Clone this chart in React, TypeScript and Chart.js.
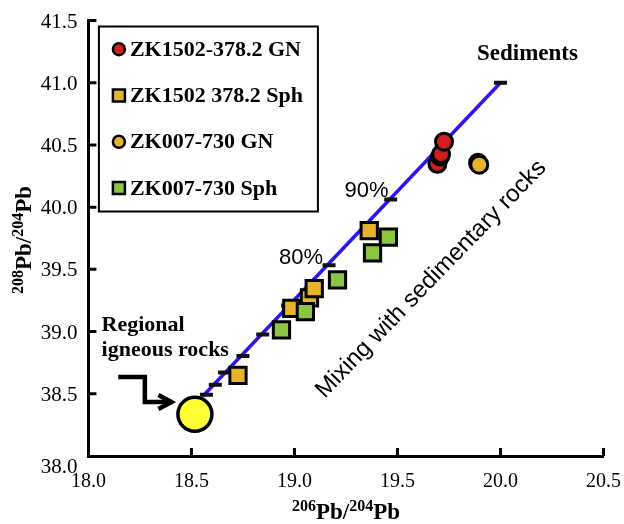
import React, { useEffect, useRef } from 'react';
import { Chart, registerables } from 'chart.js';

Chart.register(...registerables);

// ---- tick labels ----
const X_TICKS = [18.0, 18.5, 19.0, 19.5, 20.0, 20.5];
const Y_TICKS = [38.0, 38.5, 39.0, 39.5, 40.0, 40.5, 41.0, 41.5];

// ---- series ----
const ZK1502_GN_X = [19.694, 19.707, 19.712, 19.726];
const ZK1502_GN_Y = [40.348, 40.407, 40.427, 40.526];

const ZK1502_SPH_X = [18.726, 18.987, 19.073, 19.096, 19.363];
const ZK1502_SPH_Y = [38.648, 39.186, 39.271, 39.345, 39.811];

const ZK007_GN_X = [19.891, 19.897];
const ZK007_GN_Y = [40.356, 40.341];

const ZK007_SPH_X = [18.937, 19.053, 19.209, 19.379, 19.456];
const ZK007_SPH_Y = [39.013, 39.161, 39.415, 39.633, 39.759];

const IGNEOUS_X = [18.517];
const IGNEOUS_Y = [38.335];

const MIX_LINE_X = [18.555, 20.0];
const MIX_LINE_Y = [38.48, 41.0];

const MIX_TICK_X = [18.573, 18.616, 18.661, 18.75, 18.846, 18.967, 19.168, 19.467, 20.0];
const MIX_TICK_Y = [38.493, 38.573, 38.672, 38.804, 38.977, 39.21, 39.534, 40.062, 41.0];

// ---- labels ----
const SERIES_LABELS = ['ZK1502-378.2 GN', 'ZK1502 378.2 Sph', 'ZK007-730 GN', 'ZK007-730 Sph'];
const NOTE_TEXTS = ['Sediments', 'Regional', 'igneous rocks', '90%', '80%', 'Mixing with sedimentary rocks'];
const NOTE_X = [20.131, 18.064, 18.064, 19.35, 19.032, 19.663];
const NOTE_Y = [41.185, 39.007, 38.807, 40.132, 39.593, 39.421];
const ARROW_X = [18.145, 18.274, 18.274, 18.403];
const ARROW_Y = [38.634, 38.634, 38.434, 38.434];

const SERIF = "'Liberation Serif', serif";
const SANS = "'Liberation Sans', sans-serif";

const RED = '#d11f1f';
const GOLD = '#e6b42b';
const GREEN = '#8cc63f';
const YELLOW = '#ffff33';
const BLUE = '#2a14f5';

const zip = (xs: number[], ys: number[]) => xs.map((x, i) => ({ x, y: ys[i] }));

const NOTE_STYLES = [
  { font: `bold 23px ${SERIF}`, align: 'center', baseline: 'alphabetic', rot: 0 },
  { font: `bold 22px ${SERIF}`, align: 'left', baseline: 'alphabetic', rot: 0 },
  { font: `bold 22px ${SERIF}`, align: 'left', baseline: 'alphabetic', rot: 0 },
  { font: `400 22px ${SANS}`, align: 'center', baseline: 'middle', rot: 0 },
  { font: `400 22px ${SANS}`, align: 'center', baseline: 'middle', rot: 0 },
  { font: `400 24px ${SANS}`, align: 'center', baseline: 'middle', rot: (-46 * Math.PI) / 180 },
];

const annotationPlugin = {
  id: 'annotations',
  afterDatasetsDraw(chart: any) {
    const { ctx, scales } = chart;
    const sx = scales.x;
    const sy = scales.y;
    ctx.save();
    ctx.fillStyle = '#000';
    NOTE_TEXTS.forEach((t, i) => {
      const st = NOTE_STYLES[i];
      const px = sx.getPixelForValue(NOTE_X[i]);
      const py = sy.getPixelForValue(NOTE_Y[i]);
      ctx.save();
      ctx.translate(px, py);
      ctx.rotate(st.rot);
      ctx.font = st.font;
      ctx.textAlign = st.align;
      ctx.textBaseline = st.baseline;
      ctx.fillText(t, 0, 0);
      ctx.restore();
    });
    // arrow
    const pts = ARROW_X.map((x, i) => [sx.getPixelForValue(x), sy.getPixelForValue(ARROW_Y[i])]);
    ctx.strokeStyle = '#000';
    ctx.lineWidth = 4.5;
    ctx.lineJoin = 'miter';
    ctx.lineCap = 'butt';
    ctx.beginPath();
    pts.forEach((p, i) => (i ? ctx.lineTo(p[0], p[1]) : ctx.moveTo(p[0], p[1])));
    ctx.stroke();
    const tip = pts[pts.length - 1];
    ctx.beginPath();
    ctx.moveTo(tip[0] - 13, tip[1] - 7);
    ctx.lineTo(tip[0], tip[1]);
    ctx.lineTo(tip[0] - 13, tip[1] + 7);
    ctx.stroke();
    ctx.restore();
  },
};

const legendPlugin = {
  id: 'boxLegend',
  afterDatasetsDraw(chart: any) {
    const { ctx, chartArea } = chart;
    const left = chartArea.left + 10.5;
    const top = chartArea.top + 6;
    const w = 219;
    const h = 185;
    ctx.save();
    ctx.fillStyle = '#fff';
    ctx.fillRect(left, top, w, h);
    ctx.lineWidth = 2;
    ctx.strokeStyle = '#000';
    ctx.strokeRect(left, top, w, h);
    const ds = chart.data.datasets;
    SERIES_LABELS.forEach((label: string, i: number) => {
      const d = ds.find((q: any) => q.label === label);
      const cy = top + 22.7 + i * 46.3;
      const cx = left + 20;
      ctx.fillStyle = d.backgroundColor;
      ctx.strokeStyle = '#000';
      ctx.lineWidth = 2.5;
      ctx.beginPath();
      if (d.pointStyle === 'rect') {
        ctx.rect(cx - 6, cy - 6, 12, 12);
      } else {
        ctx.arc(cx, cy, 6, 0, Math.PI * 2);
      }
      ctx.fill();
      ctx.stroke();
      ctx.fillStyle = '#000';
      ctx.font = `bold 22px ${SERIF}`;
      ctx.textAlign = 'left';
      ctx.textBaseline = 'middle';
      ctx.fillText(label, left + 31, cy + 1);
    });
    ctx.restore();
  },
};

function drawIsoTitle(ctx: any, sup1: string, sup2: string) {
  const big = `bold 23px ${SERIF}`;
  const small = `bold 16px ${SERIF}`;
  const parts: [string, boolean][] = [
    [sup1, true],
    ['Pb/', false],
    [sup2, true],
    ['Pb', false],
  ];
  let total = 0;
  const widths = parts.map(([t, s]) => {
    ctx.font = s ? small : big;
    const wv = ctx.measureText(t).width;
    total += wv;
    return wv;
  });
  let x = -total / 2;
  ctx.textAlign = 'left';
  ctx.textBaseline = 'alphabetic';
  parts.forEach(([t, s], i) => {
    ctx.font = s ? small : big;
    ctx.fillText(t, x, s ? -8 : 0);
    x += widths[i];
  });
}

const axisPlugin = {
  id: 'axisExtras',
  afterDraw(chart: any) {
    const { ctx, scales, chartArea } = chart;
    const sx = scales.x;
    const sy = scales.y;
    ctx.save();
    // inward tick marks
    ctx.strokeStyle = '#000';
    ctx.lineWidth = 3;
    ctx.beginPath();
    X_TICKS.forEach((v) => {
      if (v === X_TICKS[0]) return;
      const px = sx.getPixelForValue(v);
      ctx.moveTo(px, chartArea.bottom);
      ctx.lineTo(px, chartArea.bottom - 8);
    });
    Y_TICKS.forEach((v) => {
      if (v === Y_TICKS[0]) return;
      const py = sy.getPixelForValue(v);
      ctx.moveTo(chartArea.left, py);
      ctx.lineTo(chartArea.left + 8, py);
    });
    ctx.stroke();
    // tick labels
    ctx.fillStyle = '#000';
    ctx.textBaseline = 'alphabetic';
    ctx.font = `400 20px ${SERIF}`;
    ctx.textAlign = 'center';
    X_TICKS.forEach((v) => {
      ctx.fillText(v.toFixed(1), sx.getPixelForValue(v), chartArea.bottom + 31);
    });
    ctx.font = `400 21px ${SERIF}`;
    ctx.textAlign = 'right';
    Y_TICKS.forEach((v, i) => {
      const extra = i === 0 ? 10 : 0;
      ctx.fillText(v.toFixed(1), chartArea.left - 11, sy.getPixelForValue(v) + 7 + extra);
    });
    // axis titles
    ctx.save();
    ctx.translate(346, chartArea.bottom + 63);
    drawIsoTitle(ctx, '206', '204');
    ctx.restore();
    ctx.save();
    ctx.translate(31, 240);
    ctx.rotate(-Math.PI / 2);
    drawIsoTitle(ctx, '208', '204');
    ctx.restore();
    ctx.restore();
  },
};

export default function App() {
  const ref = useRef<HTMLCanvasElement | null>(null);

  useEffect(() => {
    if (!ref.current) return;
    const chart = new Chart(ref.current, {
      type: 'scatter',
      data: {
        datasets: [
          {
            label: 'Regional igneous rocks',
            data: zip(IGNEOUS_X, IGNEOUS_Y),
            pointStyle: 'circle',
            pointRadius: 17,
            borderWidth: 3.5,
            borderColor: '#000',
            backgroundColor: YELLOW,
            order: 0,
          },
          {
            label: SERIES_LABELS[0],
            data: zip(ZK1502_GN_X, ZK1502_GN_Y),
            pointStyle: 'circle',
            pointRadius: 8.5,
            borderWidth: 3,
            borderColor: '#000',
            backgroundColor: RED,
            order: 1,
          },
          {
            label: SERIES_LABELS[2],
            data: zip(ZK007_GN_X, ZK007_GN_Y),
            pointStyle: 'circle',
            pointRadius: 8.5,
            borderWidth: 3,
            borderColor: '#000',
            backgroundColor: GOLD,
            order: 2,
          },
          {
            label: SERIES_LABELS[3],
            data: zip(ZK007_SPH_X, ZK007_SPH_Y),
            pointStyle: 'rect',
            pointRadius: 11.5,
            borderWidth: 3,
            borderColor: '#000',
            backgroundColor: GREEN,
            order: 3,
          },
          {
            label: SERIES_LABELS[1],
            data: zip(ZK1502_SPH_X, ZK1502_SPH_Y),
            pointStyle: 'rect',
            pointRadius: 11.5,
            borderWidth: 3,
            borderColor: '#000',
            backgroundColor: GOLD,
            order: 4,
          },
          {
            label: 'Mixing ticks',
            data: zip(MIX_TICK_X, MIX_TICK_Y),
            pointStyle: 'line',
            pointRadius: 6.5,
            borderWidth: 4,
            borderColor: '#111',
            backgroundColor: '#111',
            order: 5,
          },
          {
            label: 'Mixing line',
            data: zip(MIX_LINE_X, MIX_LINE_Y),
            showLine: true,
            pointRadius: 0,
            borderWidth: 3.5,
            borderColor: BLUE,
            backgroundColor: BLUE,
            order: 6,
          },
        ] as any,
      },
      options: {
        responsive: false,
        animation: false,
        events: [],
        layout: { padding: { left: 0, right: 19, top: 18, bottom: 0 } },
        plugins: {
          legend: { display: false },
          tooltip: { enabled: false },
          title: { display: false },
        },
        scales: {
          x: {
            type: 'linear',
            min: 18,
            max: 20.5,
            afterBuildTicks: (s: any) => {
              s.ticks = X_TICKS.map((v) => ({ value: v }));
            },
            afterFit: (s: any) => {
              s.height = 68;
            },
            grid: { display: false, drawTicks: false },
            border: { display: true, color: '#000', width: 3 },
            ticks: { display: false },
          },
          y: {
            type: 'linear',
            min: 38,
            max: 41.5,
            afterBuildTicks: (s: any) => {
              s.ticks = Y_TICKS.map((v) => ({ value: v }));
            },
            afterFit: (s: any) => {
              s.width = 88.4;
            },
            grid: { display: false, drawTicks: false },
            border: { display: true, color: '#000', width: 3 },
            ticks: { display: false },
          },
        },
      } as any,
      plugins: [annotationPlugin, legendPlugin, axisPlugin],
    });
    return () => chart.destroy();
  }, []);

  return (
    <div style={{ position: 'fixed', left: 0, top: 0, width: 624, height: 524, background: '#fff' }}>
      <canvas ref={ref} width={624} height={524} style={{ display: 'block' }} />
    </div>
  );
}
